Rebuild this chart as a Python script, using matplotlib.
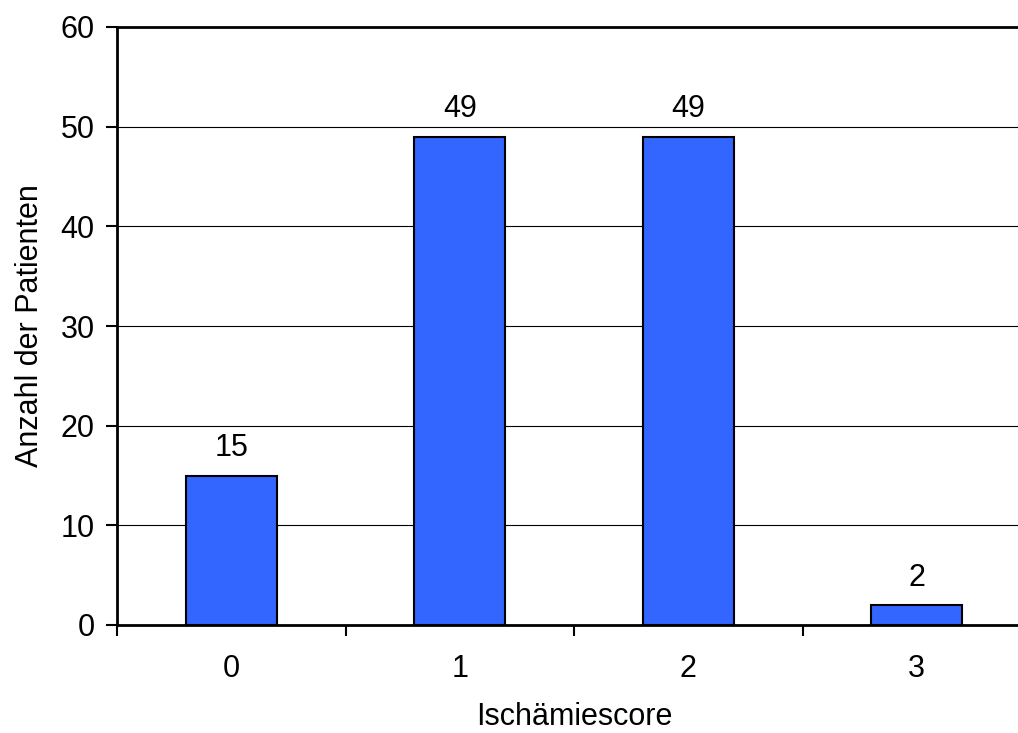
import matplotlib.pyplot as plt
import numpy as np

plt.rcParams['font.family'] = ['Liberation Sans', 'DejaVu Sans']

# Ischämiescore-Verteilung
scores = ['0', '1', '2', '3']
patients = [15, 49, 49, 2]
y_ticks = [0, 10, 20, 30, 40, 50, 60]

fig = plt.figure(figsize=(10.18, 7.33), dpi=100)
ax = fig.add_axes([117 / 1018, 108 / 733, 914 / 1018, 598 / 733])

x = np.arange(len(scores))
bars = ax.bar(x, patients, width=0.4, color='#3366FF', edgecolor='black',
              linewidth=1.5, zorder=3)

for xi, val in zip(x, patients):
    ax.annotate(str(val), (xi, val), xytext=(0, 9), textcoords='offset points',
                ha='center', va='bottom', fontsize=22)

ax.set_xlim(-0.5, 3.5)
ax.set_ylim(0, 60)
ax.set_yticks(y_ticks)
ax.yaxis.grid(True, color='black', linewidth=0.8, zorder=0)
ax.set_axisbelow(True)

# Trennstriche zwischen den Kategorien, Beschriftung mittig
ax.set_xticks(np.arange(-0.5, 3.6, 1.0))
ax.set_xticklabels([])
ax.set_xticks(x, minor=True)
ax.set_xticklabels(scores, minor=True)
ax.tick_params(axis='x', which='major', direction='out', length=8, width=1.5)
ax.tick_params(axis='x', which='minor', length=0, pad=21, labelsize=22)
ax.tick_params(axis='y', direction='out', length=8, width=1.5, labelsize=22, pad=8)

ax.spines['right'].set_visible(False)
for side in ('left', 'bottom', 'top'):
    ax.spines[side].set_linewidth(2)

ax.set_xlabel('Ischämiescore', fontsize=22, labelpad=13)
ax.set_ylabel('Anzahl der Patienten', fontsize=22, labelpad=11)

fig.savefig('out.png', dpi=100)
